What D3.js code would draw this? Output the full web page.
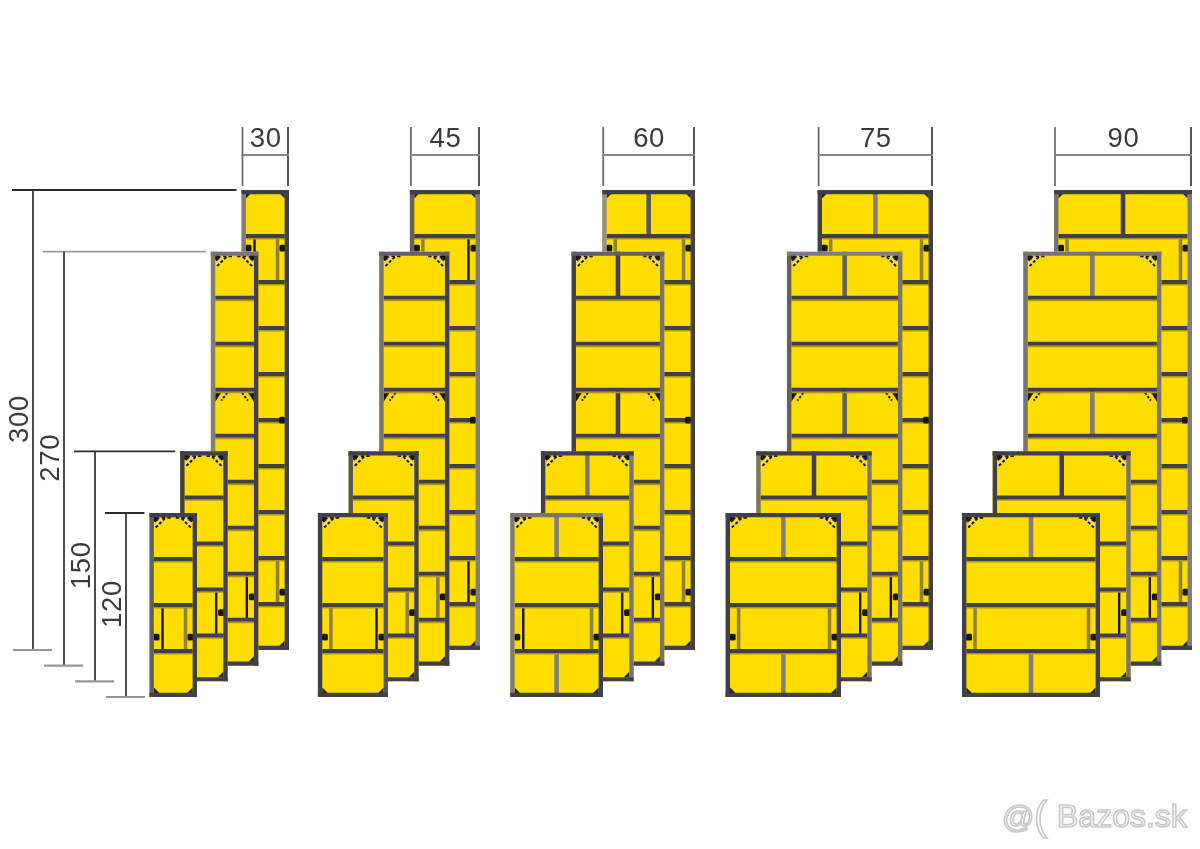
<!DOCTYPE html>
<html><head><meta charset="utf-8">
<script src="https://cdn.jsdelivr.net/npm/d3@7"></script>
<style>html,body{margin:0;padding:0;background:#fff}svg{display:block;filter:blur(.5px)}text{font-family:"Liberation Sans",Arial,sans-serif}</style>
</head><body><div id="chart"></div>
<script>
// DATA
const panelWidths  = [30, 45, 60, 75, 90];
const panelHeights = [300, 270, 150, 120];
const moduleHeight = 30;
const watermark = "Bazos.sk";
// row kinds, top to bottom, for each panel height
const rows300 = ["cap","detail","plain","plain","plain","plain","plain","plain","detail","foot"];
const rows270 = ["top","plain","plain","mid","plain","plain","plain","detail","foot"];
const rows150 = ["top","plain","plain","detail","foot"];
const rows120 = ["top","plain","detail","foot"];
const rowSets = [rows300, rows270, rows150, rows120];
const nutDrop = [[12, 34], [23], [23], [32]];

// SCALES
const W = 1200, H = 849;
const groupRight = d3.scaleOrdinal().domain(panelWidths).range([289, 480, 695, 933, 1192]);
const widthPx  = d3.scaleLinear().domain([30, 90]).range([47.5, 138]);
const heightPx = d3.scaleLinear().domain([0, 300]).range([0, 460]);
const depth = d3.scaleLinear().domain([0, 3]);
const rightShift = depth.copy().range([0, -92]);
const bottomY = depth.copy().range([650, 697]);
const dimX = depth.copy().range([33, 126]);

// STYLES: [panel depth][group]
const YEL = "#ffdd00", D = "#3f4049", BROWN = "#8f8232", SHADOW = "#a8981e", K = "#17171a";
const G1 = "#7f7e7a", G2 = "#77756c", G3 = "#62615c";
const leftCol  = [[G1,G3,"#8f8f8d",D,G2],[G1,G2,D,G3,G2],[D,"#55565c",D,G2,D],[G3,D,G1,D,D]];
const topCol   = [[D,D,D,D,D],[G2,G3,G3,G1,G2],[D,D,D,D,D],[D,D,G2,D,D]];
const rightCol = [[D,G1,D,D,G1],[D,D,G2,G2,G2],[D,D,G2,G2,G2],[D,"#55565c",D,D,D]];
const centerCol = [[D,D,"#55565c",G1,D],[D,D,D,G3,G1],[D,D,G2,D,D],[D,D,G1,G1,G1]];
const detailLeft  = [[K,BROWN,BROWN,BROWN,BROWN],[K,K,K,K,K],[K,K,K,K,K],[K,BROWN,K,BROWN,BROWN]];
const detailRight = [[BROWN,K,BROWN,BROWN,BROWN],[K,BROWN,K,K,K],[K,BROWN,K,K,K],[BROWN,K,BROWN,BROWN,BROWN]];
const dimTop   = ["#2c2c2c", "#9a9a9a", "#2c2c2c", "#2c2c2c"];

const svg = d3.select("#chart").append("svg").attr("width", W).attr("height", H).attr("viewBox", [0,0,W,H]);
const FR = 4.4;

function line(g, x1, y1, x2, y2, c, sw, dash) {
  const l = g.append("line").attr("x1",x1).attr("y1",y1).attr("x2",x2).attr("y2",y2).attr("stroke",c).attr("stroke-width",sw);
  if (dash) l.attr("stroke-dasharray",dash);
  return l;
}
function chamfer(g, cx, cy, sx, c) {
  g.append("polygon").attr("points",[[cx,cy],[cx+sx*c*.9,cy],[cx,cy+c*.9]].join(" ")).attr("fill","#e7dd8a");
  line(g, cx+sx*c*.85, cy+c*.1, cx+sx*.1*c, cy+c*.85, K, 2, "3 2");
  line(g, cx+sx*c*.55, cy+.5, cx+sx*.5, cy+c*.55, YEL, 2);
  line(g, cx+sx*c*.38, cy+.5, cx+sx*.5, cy+c*.38, K, 2.2, "2.2 1.6");
  line(g, cx+sx*c*.6, cy+.8, cx+sx*(c+5), cy+.8, K, 1.8, "3.5 2");
  g.append("rect").attr("x",sx>0?cx-1:cx-4).attr("y",cy-1).attr("width",5).attr("height",5).attr("fill",K);
}
function wedge(g, cx, cy, sx, c) {
  g.append("polygon").attr("points",[[cx,cy],[cx+sx*c*.55,cy],[cx,cy+c*.6+3]].join(" ")).attr("fill",K);
  line(g, cx+sx*c, cy+1, cx+sx*.5*c, cy+c*.75, K, 2, "2.6 1.6");
}
function tri(g, cx, cy, sx, sy, c) {
  g.append("polygon").attr("points",[[cx,cy],[cx+sx*c,cy],[cx,cy+sy*c]].join(" ")).attr("fill","#26262c");
}
function nut(g, nx, ny) {
  g.append("rect").attr("x",nx-3).attr("y",ny-3.2).attr("width",6).attr("height",6.8).attr("rx",1.5).attr("fill",K);
}

function drawPanel(wCm, hCm, k, gi) {
  const g = svg.append("g").attr("class","panel");
  const w = widthPx(wCm), h = heightPx(hCm);
  const x1 = groupRight(wCm) + rightShift(k), x0 = x1 - w;
  const y1 = bottomY(k), y0 = y1 - h;
  const rh = heightPx(moduleHeight);
  const split = wCm >= 60;
  const ix0 = x0 + FR, ix1 = x1 - FR;
  g.append("rect").attr("x",x0).attr("y",y0).attr("width",w).attr("height",h).attr("fill",YEL);
  let di = 0;
  rowSets[k].forEach((kind, i) => {
    const ry = y0 + i * rh;
    if ((kind === "cap" || kind === "top" || kind === "mid" || kind === "foot") && split) {
      const mx = (x0 + x1) / 2;
      line(g, mx, ry, mx, ry + rh, centerCol[k][gi], 4.6);
    }
    if (kind === "detail") {
      const a = x0 + 13, b = x1 - 11.5;
      line(g, a, ry, a, ry + rh, detailLeft[k][gi], detailLeft[k][gi] === K ? 2.4 : 3.6);
      line(g, b, ry, b, ry + rh, detailRight[k][gi], detailRight[k][gi] === K ? 2.4 : 3.6);
      const drop = nutDrop[k][di++];
      nut(g, x0 + 7, ry + drop);
      nut(g, x1 - 6.5, ry + drop);
    }
    if (kind === "top") {
      chamfer(g, ix0, ry + 4, 1, 13);
      chamfer(g, ix1, ry + 4, -1, 13);
    }
    if (kind === "mid") {
      wedge(g, ix0, ry + 2, 1, 12);
      wedge(g, ix1, ry + 2, -1, 12);
    }
    if (kind === "cap") {
      tri(g, ix0, ry + 4, 1, 1, 4.5);
      tri(g, ix1, ry + 4, -1, 1, 4.5);
    }
    if (kind === "foot") {
      tri(g, ix0, y1 - 4, 1, -1, 5.5);
      tri(g, ix1, y1 - 4, -1, -1, 5.5);
    }
    if (i > 0) {
      line(g, ix0, ry + 2.6, ix1, ry + 2.6, SHADOW, 1.8);
      line(g, ix0, ry, ix1, ry, D, 3.8);
    }
    if (k === 0 && i === 5) nut(g, x1 - 7, ry);
  });
  line(g, x0 + FR/2, y0, x0 + FR/2, y1, leftCol[k][gi], FR);
  line(g, x1 - FR/2, y0, x1 - FR/2, y1, rightCol[k][gi], FR);
  line(g, x0, y0 + 2.1, x1, y0 + 2.1, topCol[k][gi], 4.2);
  line(g, x0, y1 - 2.1, x1, y1 - 2.1, D, 4.2);
}

panelWidths.forEach((wCm, gi) => panelHeights.forEach((hCm, k) => drawPanel(wCm, hCm, k, gi)));

// width dimensions
const dims = svg.append("g").attr("class","dims");
panelWidths.forEach(wCm => {
  const x1 = groupRight(wCm), x0 = x1 - widthPx(wCm);
  line(dims, x0 + 1, 127, x0 + 1, 186, "#666", 1.7);
  line(dims, x1 - 1, 127, x1 - 1, 186, "#3a3a3a", 1.7);
  line(dims, x0, 155, x1, 155, "#858585", 2.2);
  dims.append("text").attr("x",(x0+x1)/2 + .5).attr("y",147).attr("text-anchor","middle")
    .attr("font-size",27.5).attr("letter-spacing",.6).attr("fill","#3a3a3a").text(wCm);
});
// height dimensions
const firstLeft = groupRight(30) - widthPx(30);
panelHeights.forEach((hCm, k) => {
  const x = dimX(k), yb = bottomY(k), yt = yb - heightPx(hCm);
  const panelLeft = firstLeft + rightShift(k);
  line(dims, x - 21, yt, panelLeft - 5, yt, dimTop[k], 1.9);
  line(dims, x, yt, x, yb, "#2c2c2c", 1.7);
  line(dims, x - 20, yb, x + 19, yb, "#959595", 2.2);
  dims.append("text")
    .attr("transform",`translate(${x-5.5},${(yt+yb)/2 - 1}) rotate(-90)`)
    .attr("text-anchor","middle").attr("font-size",27.5).attr("letter-spacing",.7).attr("fill","#3a3a3a").text(hCm);
});
// watermark
const wm = svg.append("g").attr("fill","#fff").attr("stroke","#c8c8c8").attr("stroke-width",1.6);
wm.append("text").attr("x",1002).attr("y",828).attr("font-size",32).text("@");
wm.append("text").attr("x",1034).attr("y",830).attr("font-size",40).text("(");
wm.append("text").attr("x",1057).attr("y",827).attr("font-size",32).text(watermark);
</script></body></html>
